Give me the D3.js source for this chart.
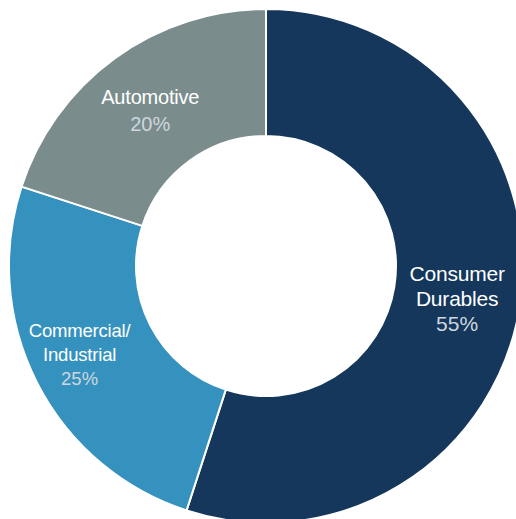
<!DOCTYPE html>
<html>
<head>
<meta charset="utf-8">
<script src="https://cdn.jsdelivr.net/npm/d3@7"></script>
<style>
  html, body { margin: 0; padding: 0; background: #ffffff; }
  svg { display: block; }
  text { font-family: "Liberation Sans", Arial, Helvetica, sans-serif; }
</style>
</head>
<body>
<svg id="chart" width="516" height="519"></svg>
<script>
// Segment data
const segments = ["Consumer Durables", "Commercial/Industrial", "Automotive"];
const shares = [55, 25, 20];
const nameLines = [["Consumer", "Durables"], ["Commercial/", "Industrial"], ["Automotive"]];
const colors = ["#14375b", "#3592be", "#7a8d8c"];

// Label typography and placement around each arc centroid
const labelStyle = [
  { size: 21, dx: 0, dy: -15, lead: 25 },
  { size: 18.5, dx: -14, dy: -17, lead: 24 },
  { size: 20, dx: -2, dy: -5, lead: 27 }
];

const cx = 266, cy = 266, outerR = 257, innerR = 130;

const svg = d3.select("#chart");
const g = svg.append("g").attr("transform", `translate(${cx},${cy})`);

const pie = d3.pie().sort(null).value(d => d.value);
const arc = d3.arc().innerRadius(innerR).outerRadius(outerR);

const data = segments.map((s, i) => ({ name: s, value: shares[i], lines: nameLines[i], i }));
const arcs = pie(data);

g.selectAll("path.slice")
  .data(arcs)
  .join("path")
  .attr("class", "slice")
  .attr("d", arc)
  .attr("fill", d => colors[d.data.i])
  .attr("stroke", "#ffffff")
  .attr("stroke-width", 2)
  .attr("stroke-linejoin", "miter");

const labels = g.selectAll("g.label")
  .data(arcs)
  .join("g")
  .attr("class", "label")
  .attr("transform", d => {
    const [x, y] = arc.centroid(d);
    const st = labelStyle[d.data.i];
    return `translate(${x + st.dx},${y + st.dy})`;
  });

labels.each(function(d) {
  const st = labelStyle[d.data.i];
  const sel = d3.select(this);
  d.data.lines.forEach((ln, k) => {
    sel.append("text")
      .attr("text-anchor", "middle")
      .attr("y", k * st.lead)
      .attr("fill", "#ffffff")
      .style("font-size", st.size + "px")
      .style("letter-spacing", "-0.2px")
      .text(ln);
  });
  sel.append("text")
    .attr("text-anchor", "middle")
    .attr("y", d.data.lines.length * st.lead)
    .attr("fill", "#cfd6de")
    .style("font-size", st.size + "px")
    .text(d.data.value + "%");
});
</script>
</body>
</html>
